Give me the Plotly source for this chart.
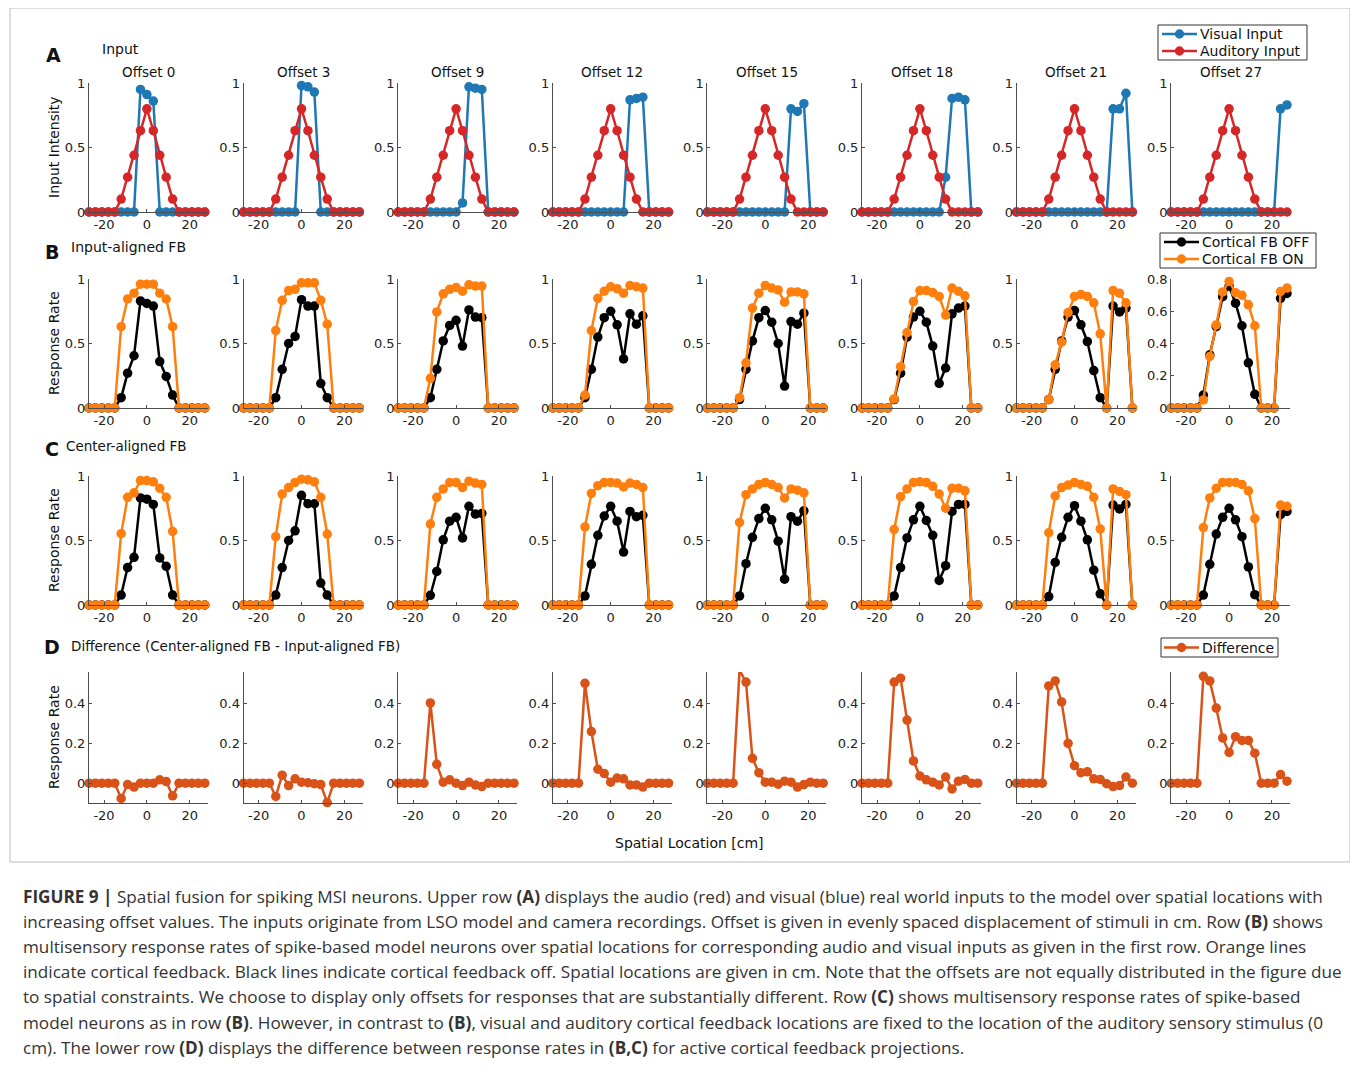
import plotly.graph_objects as go

W, H = 1358, 1068

x_loc = list(range(-27, 28, 3))
offsets = ["Offset 0", "Offset 3", "Offset 9", "Offset 12", "Offset 15", "Offset 18", "Offset 21", "Offset 27"]

auditory = [0, 0, 0, 0, 0, 0.1, 0.27, 0.44, 0.63, 0.8, 0.63, 0.44, 0.27, 0.1, 0, 0, 0, 0, 0]

visual = [
    [0, 0, 0, 0, 0, 0, 0, 0, 0.95, 0.91, 0.86, 0, 0, 0, 0, 0, 0, 0, 0],
    [0, 0, 0, 0, 0, 0, 0, 0, 0, 0.98, 0.97, 0.93, 0, 0, 0, 0, 0, 0, 0],
    [0, 0, 0, 0, 0, 0, 0, 0, 0, 0, 0.07, 0.97, 0.96, 0.95, 0, 0, 0, 0, 0],
    [0, 0, 0, 0, 0, 0, 0, 0, 0, 0, 0, 0, 0.87, 0.88, 0.89, 0, 0, 0, 0],
    [0, 0, 0, 0, 0, 0, 0, 0, 0, 0, 0, 0, 0, 0.80, 0.78, 0.84, 0, 0, 0],
    [0, 0, 0, 0, 0, 0, 0, 0, 0, 0, 0, 0, 0, 0.27, 0.88, 0.89, 0.87, 0, 0],
    [0, 0, 0, 0, 0, 0, 0, 0, 0, 0, 0, 0, 0, 0, 0, 0.80, 0.80, 0.92, 0],
    [0, 0, 0, 0, 0, 0, 0, 0, 0, 0, 0, 0, 0, 0, 0, 0, 0, 0.80, 0.83],
]

input_fb_off = [
    [0, 0, 0, 0, 0, 0.08, 0.27, 0.405, 0.83, 0.81, 0.79, 0.36, 0.245, 0.10, 0, 0, 0, 0, 0],
    [0, 0, 0, 0, 0, 0.08, 0.30, 0.50, 0.555, 0.84, 0.79, 0.79, 0.19, 0.08, 0, 0, 0, 0, 0],
    [0, 0, 0, 0, 0, 0.08, 0.30, 0.52, 0.64, 0.68, 0.48, 0.76, 0.705, 0.70, 0, 0, 0, 0, 0],
    [0, 0, 0, 0, 0, 0.08, 0.30, 0.55, 0.70, 0.75, 0.645, 0.38, 0.73, 0.65, 0.715, 0, 0, 0, 0],
    [0, 0, 0, 0, 0, 0.065, 0.30, 0.52, 0.70, 0.755, 0.665, 0.50, 0.17, 0.67, 0.65, 0.735, 0, 0, 0],
    [0, 0, 0, 0, 0, 0.065, 0.27, 0.55, 0.705, 0.75, 0.665, 0.48, 0.19, 0.31, 0.73, 0.775, 0.79, 0, 0],
    [0, 0, 0, 0, 0, 0.065, 0.30, 0.52, 0.705, 0.755, 0.645, 0.515, 0.29, 0.08, 0, 0.79, 0.745, 0.775, 0],
    [0, 0, 0, 0, 0, 0.08, 0.33, 0.505, 0.69, 0.755, 0.65, 0.51, 0.28, 0.085, 0, 0, 0, 0.68, 0.71],
]

input_fb_on = [
    [0, 0, 0, 0, 0, 0.63, 0.845, 0.89, 0.96, 0.96, 0.96, 0.89, 0.845, 0.63, 0, 0, 0, 0, 0],
    [0, 0, 0, 0, 0, 0.60, 0.835, 0.91, 0.92, 0.97, 0.97, 0.97, 0.835, 0.65, 0, 0, 0, 0, 0],
    [0, 0, 0, 0, 0, 0.23, 0.745, 0.885, 0.92, 0.935, 0.905, 0.955, 0.945, 0.945, 0, 0, 0, 0, 0],
    [0, 0, 0, 0, 0, 0.10, 0.60, 0.85, 0.905, 0.94, 0.925, 0.89, 0.95, 0.94, 0.93, 0, 0, 0, 0],
    [0, 0, 0, 0, 0, 0.08, 0.35, 0.775, 0.89, 0.95, 0.93, 0.915, 0.82, 0.90, 0.90, 0.885, 0, 0, 0],
    [0, 0, 0, 0, 0, 0.07, 0.32, 0.585, 0.825, 0.91, 0.91, 0.895, 0.865, 0.72, 0.93, 0.905, 0.87, 0, 0],
    [0, 0, 0, 0, 0, 0.065, 0.335, 0.51, 0.74, 0.865, 0.88, 0.865, 0.815, 0.575, 0, 0.91, 0.89, 0.815, 0],
    [0, 0, 0, 0, 0, 0.05, 0.32, 0.515, 0.72, 0.785, 0.715, 0.70, 0.64, 0.51, 0, 0, 0, 0.723, 0.744],
]

center_fb_off = [
    [0, 0, 0, 0, 0, 0.077, 0.29, 0.37, 0.83, 0.82, 0.78, 0.365, 0.30, 0.077, 0, 0, 0, 0, 0],
    [0, 0, 0, 0, 0, 0.077, 0.29, 0.50, 0.575, 0.85, 0.785, 0.785, 0.17, 0.077, 0, 0, 0, 0, 0],
    [0, 0, 0, 0, 0, 0.075, 0.26, 0.505, 0.65, 0.68, 0.52, 0.765, 0.705, 0.71, 0, 0, 0, 0, 0],
    [0, 0, 0, 0, 0, 0.07, 0.315, 0.54, 0.69, 0.765, 0.65, 0.41, 0.725, 0.685, 0.695, 0, 0, 0, 0],
    [0, 0, 0, 0, 0, 0.07, 0.32, 0.525, 0.67, 0.75, 0.66, 0.495, 0.20, 0.685, 0.65, 0.73, 0, 0, 0],
    [0, 0, 0, 0, 0, 0.07, 0.29, 0.52, 0.66, 0.765, 0.655, 0.54, 0.19, 0.305, 0.725, 0.78, 0.78, 0, 0],
    [0, 0, 0, 0, 0, 0.065, 0.33, 0.525, 0.68, 0.77, 0.65, 0.505, 0.27, 0.087, 0, 0.775, 0.745, 0.78, 0],
    [0, 0, 0, 0, 0, 0.077, 0.315, 0.55, 0.68, 0.75, 0.66, 0.53, 0.295, 0.08, 0, 0, 0, 0.70, 0.725],
]

center_fb_on = [
    [0, 0, 0, 0, 0, 0.553, 0.835, 0.87, 0.965, 0.965, 0.955, 0.905, 0.835, 0.57, 0, 0, 0, 0, 0],
    [0, 0, 0, 0, 0, 0.53, 0.86, 0.91, 0.95, 0.975, 0.97, 0.955, 0.835, 0.55, 0, 0, 0, 0, 0],
    [0, 0, 0, 0, 0, 0.627, 0.835, 0.90, 0.95, 0.95, 0.91, 0.96, 0.945, 0.935, 0, 0, 0, 0, 0],
    [0, 0, 0, 0, 0, 0.605, 0.865, 0.925, 0.95, 0.95, 0.945, 0.915, 0.945, 0.935, 0.91, 0, 0, 0, 0],
    [0, 0, 0, 0, 0, 0.64, 0.855, 0.90, 0.935, 0.95, 0.935, 0.91, 0.83, 0.90, 0.89, 0.87, 0, 0, 0],
    [0, 0, 0, 0, 0, 0.585, 0.84, 0.90, 0.95, 0.955, 0.95, 0.92, 0.86, 0.75, 0.905, 0.905, 0.885, 0, 0],
    [0, 0, 0, 0, 0, 0.56, 0.845, 0.91, 0.93, 0.95, 0.935, 0.92, 0.835, 0.59, 0, 0.90, 0.88, 0.855, 0],
    [0, 0, 0, 0, 0, 0.60, 0.83, 0.905, 0.95, 0.95, 0.95, 0.935, 0.885, 0.67, 0, 0, 0, 0.775, 0.765],
]

difference = [
    [0, 0, 0, 0, 0, -0.077, -0.007, -0.02, 0, 0, 0, 0.017, 0.008, -0.064, 0, 0, 0, 0, 0],
    [0, 0, 0, 0, 0, -0.067, 0.04, -0.012, 0.022, 0.005, 0.002, -0.003, -0.007, -0.098, 0, 0, 0, 0, 0],
    [0, 0, 0, 0, 0, 0.404, 0.095, 0.005, 0.017, 0, -0.012, 0.005, -0.009, -0.017, 0, 0, 0, 0, 0],
    [0, 0, 0, 0, 0, 0.503, 0.26, 0.07, 0.048, 0.005, 0.026, 0.022, -0.009, -0.009, -0.02, 0, 0, 0, 0],
    [0, 0, 0, 0, 0, 0.569, 0.509, 0.125, 0.053, 0.005, 0.005, -0.005, 0.01, 0.005, -0.02, -0.007, 0.005, 0, 0],
    [0, 0, 0, 0, 0, 0.509, 0.529, 0.318, 0.112, 0.036, 0.017, 0.005, -0.009, 0.031, -0.029, 0.01, 0.019, 0, 0],
    [0, 0, 0, 0, 0, 0.49, 0.515, 0.409, 0.2, 0.088, 0.053, 0.057, 0.022, 0.019, -0.003, -0.017, -0.012, 0.031, 0],
    [0, 0, 0, 0, 0, 0.538, 0.515, 0.378, 0.228, 0.155, 0.234, 0.215, 0.215, 0.151, 0, 0, 0, 0.043, 0.01],
]

caption_lines = [
    "<b>FIGURE 9 |</b> Spatial fusion for spiking MSI neurons. Upper row <b>(A)</b> displays the audio (red) and visual (blue) real world inputs to the model over spatial locations with",
    "increasing offset values. The inputs originate from LSO model and camera recordings. Offset is given in evenly spaced displacement of stimuli in cm. Row <b>(B)</b> shows",
    "multisensory response rates of spike-based model neurons over spatial locations for corresponding audio and visual inputs as given in the first row. Orange lines",
    "indicate cortical feedback. Black lines indicate cortical feedback off. Spatial locations are given in cm. Note that the offsets are not equally distributed in the figure due",
    "to spatial constraints. We choose to display only offsets for responses that are substantially different. Row <b>(C)</b> shows multisensory response rates of spike-based",
    "model neurons as in row <b>(B)</b>. However, in contrast to <b>(B)</b>, visual and auditory cortical feedback locations are fixed to the location of the auditory sensory stimulus (0",
    "cm). The lower row <b>(D)</b> displays the difference between response rates in <b>(B,C)</b> for active cortical feedback projections.",
]

legend_a = ["Visual Input", "Auditory Input"]
legend_b = ["Cortical FB OFF", "Cortical FB ON"]
legend_d = ["Difference"]

C_BLUE = "#1f77b4"
C_RED = "#d62728"
C_BLACK = "#000000"
C_ORANGE = "#ff7f0e"
C_DIFF = "#d95319"
FONT = "DejaVu Sans"

# page body offset (browser default margin)
OX, OY = 8, 8

def px(x):
    return (x - OX) / W

def py(y):
    return 1 - (y - OY) / H

col_left = [89 + 154.6 * i for i in range(8)]
ax_w = 119
rows_px = [(83, 212), (279, 408), (476, 605), (672, 803)]

fig = go.Figure()
layout_axes = {}

def add_axis(n, col, row, yrange, ytickvals, yticktext):
    xl = col_left[col]
    top, bot = rows_px[row]
    xname = "xaxis" if n == 1 else f"xaxis{n}"
    yname = "yaxis" if n == 1 else f"yaxis{n}"
    common = dict(showline=True, linecolor="#4d4d4d", linewidth=1, showgrid=False,
                  zeroline=False, ticks="inside", ticklen=3, tickcolor="#4d4d4d",
                  tickfont=dict(family=FONT, size=13, color="#222"), fixedrange=True)
    layout_axes[xname] = dict(domain=[px(xl), px(xl + ax_w)], range=[-27, 28.5],
                              tickvals=[-20, 0, 20], ticktext=["-20", "0", "20"],
                              anchor=f"y{n}", **common)
    layout_axes[yname] = dict(domain=[py(bot), py(top)], range=yrange,
                              tickvals=ytickvals, ticktext=yticktext,
                              anchor=f"x{n}", **common)

def add_line(n, y, color, name):
    fig.add_trace(go.Scatter(
        x=x_loc, y=y, mode="lines+markers", name=name,
        line=dict(color=color, width=2.5),
        marker=dict(color=color, size=9.5),
        xaxis=f"x{n}", yaxis=f"y{n}", cliponaxis=False,
        showlegend=False))

n = 0
for c in range(8):
    n += 1
    add_axis(n, c, 0, [0, 1], [0, 0.5, 1], ["0", "0.5", "1"])
    add_line(n, visual[c], C_BLUE, legend_a[0])
    add_line(n, auditory, C_RED, legend_a[1])
for c in range(8):
    n += 1
    if c == 7:
        add_axis(n, c, 1, [0, 0.8], [0, 0.2, 0.4, 0.6, 0.8], ["0", "0.2", "0.4", "0.6", "0.8"])
    else:
        add_axis(n, c, 1, [0, 1], [0, 0.5, 1], ["0", "0.5", "1"])
    add_line(n, input_fb_off[c], C_BLACK, legend_b[0])
    add_line(n, input_fb_on[c], C_ORANGE, legend_b[1])
for c in range(8):
    n += 1
    add_axis(n, c, 2, [0, 1], [0, 0.5, 1], ["0", "0.5", "1"])
    add_line(n, center_fb_off[c], C_BLACK, legend_b[0])
    add_line(n, center_fb_on[c], C_ORANGE, legend_b[1])
for c in range(8):
    n += 1
    add_axis(n, c, 3, [-0.1, 0.56], [0, 0.2, 0.4], ["0", "0.2", "0.4"])
    add_line(n, difference[c], C_DIFF, legend_d[0])

annotations = []
shapes = []

def text(x, y, s, size=14, bold=False, xanchor="center", angle=0, color="#111", family=FONT):
    annotations.append(dict(x=px(x), y=py(y), xref="paper", yref="paper", text=(f"<b>{s}</b>" if bold else s),
                            showarrow=False, xanchor=xanchor, yanchor="middle", textangle=angle,
                            font=dict(family=family, size=size, color=color)))

for c in range(8):
    text(col_left[c] + ax_w / 2, 72, offsets[c], size=13.5)

text(53, 55, "A", size=19, bold=True)
text(120, 49, "Input", size=14)
text(52, 252, "B", size=19, bold=True)
text(69, 247, "Input-aligned FB", size=14, xanchor="left")
text(52, 449, "C", size=19, bold=True)
text(64, 446, "Center-aligned FB", size=13.5, xanchor="left")
text(52, 647, "D", size=19, bold=True)
text(69, 646, "Difference (Center-aligned FB - Input-aligned FB)", size=13.5, xanchor="left")

text(54, 147, "Input Intensity", size=14, angle=-90)
text(54, 343, "Response Rate", size=14, angle=-90)
text(54, 540, "Response Rate", size=14, angle=-90)
text(54, 737, "Response Rate", size=14, angle=-90)
text(689, 843, "Spatial Location [cm]", size=14)

for i, line in enumerate(caption_lines):
    annotations.append(dict(x=px(21), y=py(896 + 25.2 * i), xref="paper", yref="paper", text=line,
                            showarrow=False, xanchor="left", yanchor="middle",
                            font=dict(family="Open Sans", size=17.15, color="#333")))

# manual legend boxes
def legend_box(x0, y0, x1, y1, names, colors, line_x0, line_x1, text_x, row_y):
    shapes.append(dict(type="rect", xref="paper", yref="paper", x0=px(x0), x1=px(x1), y0=py(y1), y1=py(y0),
                       line=dict(color="#333", width=1), fillcolor="white", layer="above"))
    for nm, col, yy in zip(names, colors, row_y):
        shapes.append(dict(type="line", xref="paper", yref="paper", x0=px(line_x0), x1=px(line_x1),
                           y0=py(yy), y1=py(yy), line=dict(color=col, width=2.5), layer="above"))
        cx = (line_x0 + line_x1) / 2
        r = 4.7
        shapes.append(dict(type="circle", xref="paper", yref="paper", x0=px(cx - r), x1=px(cx + r),
                           y0=py(yy + r), y1=py(yy - r), line=dict(color=col, width=0), fillcolor=col, layer="above"))
        text(text_x, yy, nm, size=14, xanchor="left")

legend_box(1158, 25, 1307, 60, legend_a, [C_BLUE, C_RED], 1162, 1197, 1198, [34, 51])
legend_box(1160, 233, 1316, 268, legend_b, [C_BLACK, C_ORANGE], 1164, 1199, 1200, [242, 259])
legend_box(1161, 638, 1278, 657, legend_d, [C_DIFF], 1164, 1199, 1200, [647.5])

shapes.insert(0, dict(type="rect", xref="paper", yref="paper", x0=px(10), x1=px(1350), y0=py(862), y1=py(8),
                      line=dict(color="#bbb", width=1), layer="below"))

fig.update_layout(
    width=W, height=H, autosize=False,
    margin=dict(l=0, r=0, t=0, b=0, pad=0, autoexpand=False),
    paper_bgcolor="white", plot_bgcolor="white",
    showlegend=False,
    annotations=annotations,
    shapes=shapes,
    **layout_axes,
)

fig.write_html("out.html")
